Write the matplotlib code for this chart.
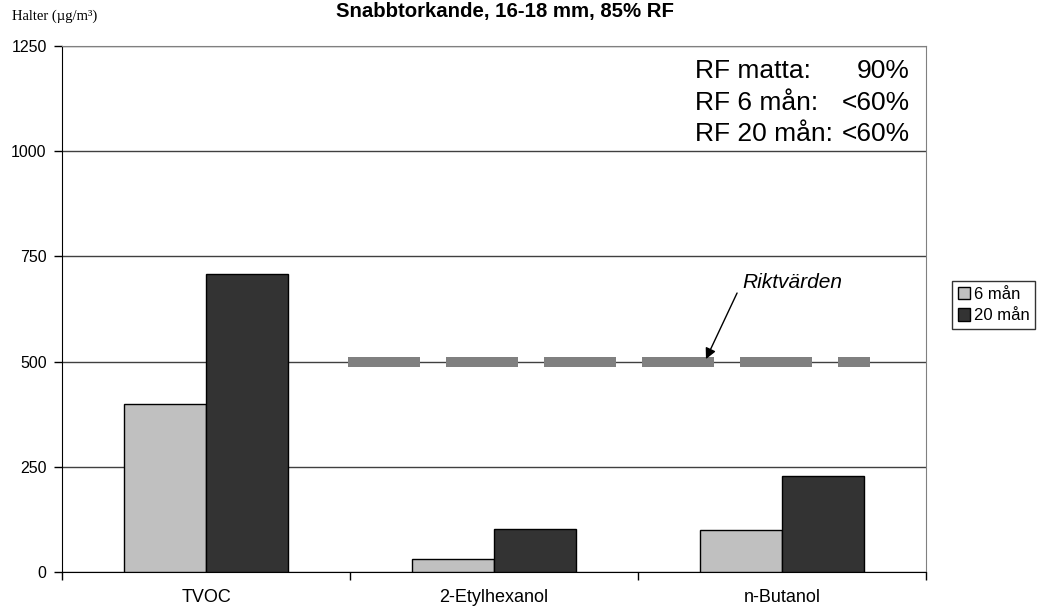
import matplotlib
matplotlib.use('Agg')
import matplotlib.pyplot as plt
import numpy as np

plt.rcParams['font.family'] = ['Liberation Sans', 'DejaVu Sans']

# data
categories = ['TVOC', '2-Etylhexanol', 'n-Butanol']
man6 = [400, 32, 99]
man20 = [708, 102, 229]
series_labels = ['6 mån', '20 mån']
riktvarde = 500
yticks = [0, 250, 500, 750, 1000, 1250]
rf_labels = ['RF matta:', 'RF 6 mån:', 'RF 20 mån:']
rf_values = ['90%', '<60%', '<60%']

fig = plt.figure(figsize=(10.38, 6.06), dpi=100)
ax = fig.add_axes([62 / 1038, 1 - 572 / 606, 864 / 1038, 526 / 606])

x = np.arange(len(categories))
w = 0.285
b1 = ax.bar(x - w / 2, man6, w, color='#c0c0c0', edgecolor='black', linewidth=1, label=series_labels[0], zorder=3)
b2 = ax.bar(x + w / 2, man20, w, color='#333333', edgecolor='black', linewidth=1, label=series_labels[1], zorder=3)

# riktvärde line
rl, = ax.plot([0.493, 2.306], [riktvarde, riktvarde], color='#808080', linewidth=7.2,
              solid_capstyle='butt', dash_capstyle='butt', zorder=4)
rl.set_dashes((7.2, 2.6))

ax.annotate('', xy=(1.736, 506), xytext=(1.844, 663),
            arrowprops=dict(arrowstyle='-|>', color='black', lw=1, mutation_scale=16, shrinkA=0, shrinkB=0),
            zorder=5)
ax.text(2.035, 687, 'Riktvärden', style='italic', fontsize=15, ha='center', va='center')

ax.set_xlim(-0.5, 2.5)
ax.set_ylim(0, 1250)
ax.set_yticks(yticks)
ax.set_yticklabels([str(v) for v in yticks], fontsize=11.5)
ax.yaxis.grid(True, color='#404040', linewidth=1, zorder=0)
ax.set_axisbelow(True)

ax.set_xticks(x)
ax.set_xticklabels(categories, fontsize=13)
ax.tick_params(axis='x', length=0, pad=12)
ax.set_xticks([-0.5, 0.5, 1.5, 2.5], minor=True)
ax.tick_params(axis='x', which='minor', length=6, width=1, color='black', direction='out')
ax.tick_params(axis='y', length=6, width=1, direction='out', pad=5)

for s in ['top', 'right']:
    ax.spines[s].set_color('#808080')
for s in ['left', 'bottom']:
    ax.spines[s].set_color('black')

# RF text box
for i, (lab, val) in enumerate(zip(rf_labels, rf_values)):
    yy = 1 - (71 + i * 31.5) / 606
    fig.text(695 / 1038, yy, lab, fontsize=19, ha='left', va='center')
    fig.text(910 / 1038, yy, val, fontsize=19, ha='right', va='center')

fig.text(505 / 1038, 1 - 12 / 606, 'Snabbtorkande, 16-18 mm, 85% RF', fontsize=14.7,
         fontweight='bold', ha='center', va='center')
fig.text(12 / 1038, 1 - 16 / 606, 'Halter (µg/m³)', fontsize=10.5,
         family=['Liberation Serif', 'DejaVu Serif'], ha='left', va='center')

leg = fig.legend(handles=[b1, b2], loc='center left', bbox_to_anchor=(952 / 1038, 1 - 305 / 606),
                 fontsize=12, frameon=True, fancybox=False, edgecolor='black',
                 handlelength=0.75, handleheight=0.75, handletextpad=0.2, borderpad=0.35,
                 labelspacing=0.4, borderaxespad=0)
leg.get_frame().set_linewidth(1)

fig.savefig('out.png', dpi=100)
